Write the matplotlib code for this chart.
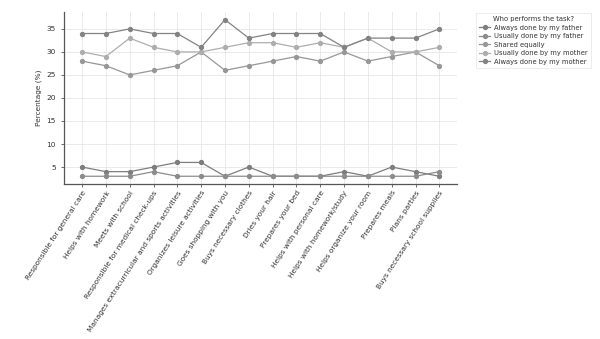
import matplotlib
matplotlib.use("Agg")
import matplotlib.pyplot as plt

tasks = [
    "Responsible for general care",
    "Helps with homework",
    "Meets with school",
    "Responsible for medical check-ups",
    "Manages extracurricular and sports activities",
    "Organizes leisure activities",
    "Goes shopping with you",
    "Buys necessary clothes",
    "Dries your hair",
    "Prepares your bed",
    "Helps with personal care",
    "Helps with homework/study",
    "Helps organize your room",
    "Prepares meals",
    "Plans parties",
    "Buys necessary school supplies",
]

always_father = [5, 4, 4, 5, 6, 6, 3, 5, 3, 3, 3, 4, 3, 5, 4, 3]
usually_father = [3, 3, 3, 4, 3, 3, 3, 3, 3, 3, 3, 3, 3, 3, 3, 4]
shared_equally = [28, 27, 25, 26, 27, 30, 26, 27, 28, 29, 28, 30, 28, 29, 30, 27]
usually_mother = [30, 29, 33, 31, 30, 30, 31, 32, 32, 31, 32, 31, 33, 30, 30, 31]
always_mother = [34, 34, 35, 34, 34, 31, 37, 33, 34, 34, 34, 31, 33, 33, 33, 35]

series = [
    ("Always done by my father", always_father, "#7e7e7e"),
    ("Usually done by my father", usually_father, "#8c8c8c"),
    ("Shared equally", shared_equally, "#979797"),
    ("Usually done by my mother", usually_mother, "#adadad"),
    ("Always done by my mother", always_mother, "#838383"),
]

fs = 5.3
lfs = 4.9
fig = plt.figure(figsize=(6.0, 3.39), dpi=100)
ax = fig.add_axes([0.107, 0.457, 0.655, 0.508])

x = list(range(len(tasks)))
for label, vals, col in series:
    ax.plot(x, vals, marker="o", markersize=2.8, linewidth=0.9,
            color=col, label=label)

ax.set_xticks(x)
ax.set_xticklabels(tasks, rotation=57, ha="right", rotation_mode="anchor",
                   fontsize=fs, color="#333333")
ax.set_yticks([5, 10, 15, 20, 25, 30, 35])
ax.tick_params(axis="y", labelsize=fs, colors="#333333", length=2.5, width=0.5)
ax.tick_params(axis="x", length=2.5, width=0.5, colors="#333333", pad=1.5)
ax.set_ylabel("Percentage (%)", fontsize=fs, color="#333333", labelpad=3)

ax.grid(True, color="#e6e6e6", linewidth=0.6)
ax.set_axisbelow(True)
for side in ("top", "right"):
    ax.spines[side].set_visible(False)
for side in ("left", "bottom"):
    ax.spines[side].set_color("#555555")
    ax.spines[side].set_linewidth(0.9)

leg = fig.legend(loc="upper left", bbox_to_anchor=(0.793, 0.962),
                 title="Who performs the task?", fontsize=lfs,
                 title_fontsize=lfs, frameon=True, fancybox=False,
                 edgecolor="#dddddd", handlelength=1.7, handletextpad=0.5,
                 labelspacing=0.38, borderpad=0.45, borderaxespad=0.0)
leg.get_frame().set_linewidth(0.5)
for t in leg.get_texts():
    t.set_color("#333333")
leg.get_title().set_color("#333333")

fig.savefig("out.png", dpi=100)
